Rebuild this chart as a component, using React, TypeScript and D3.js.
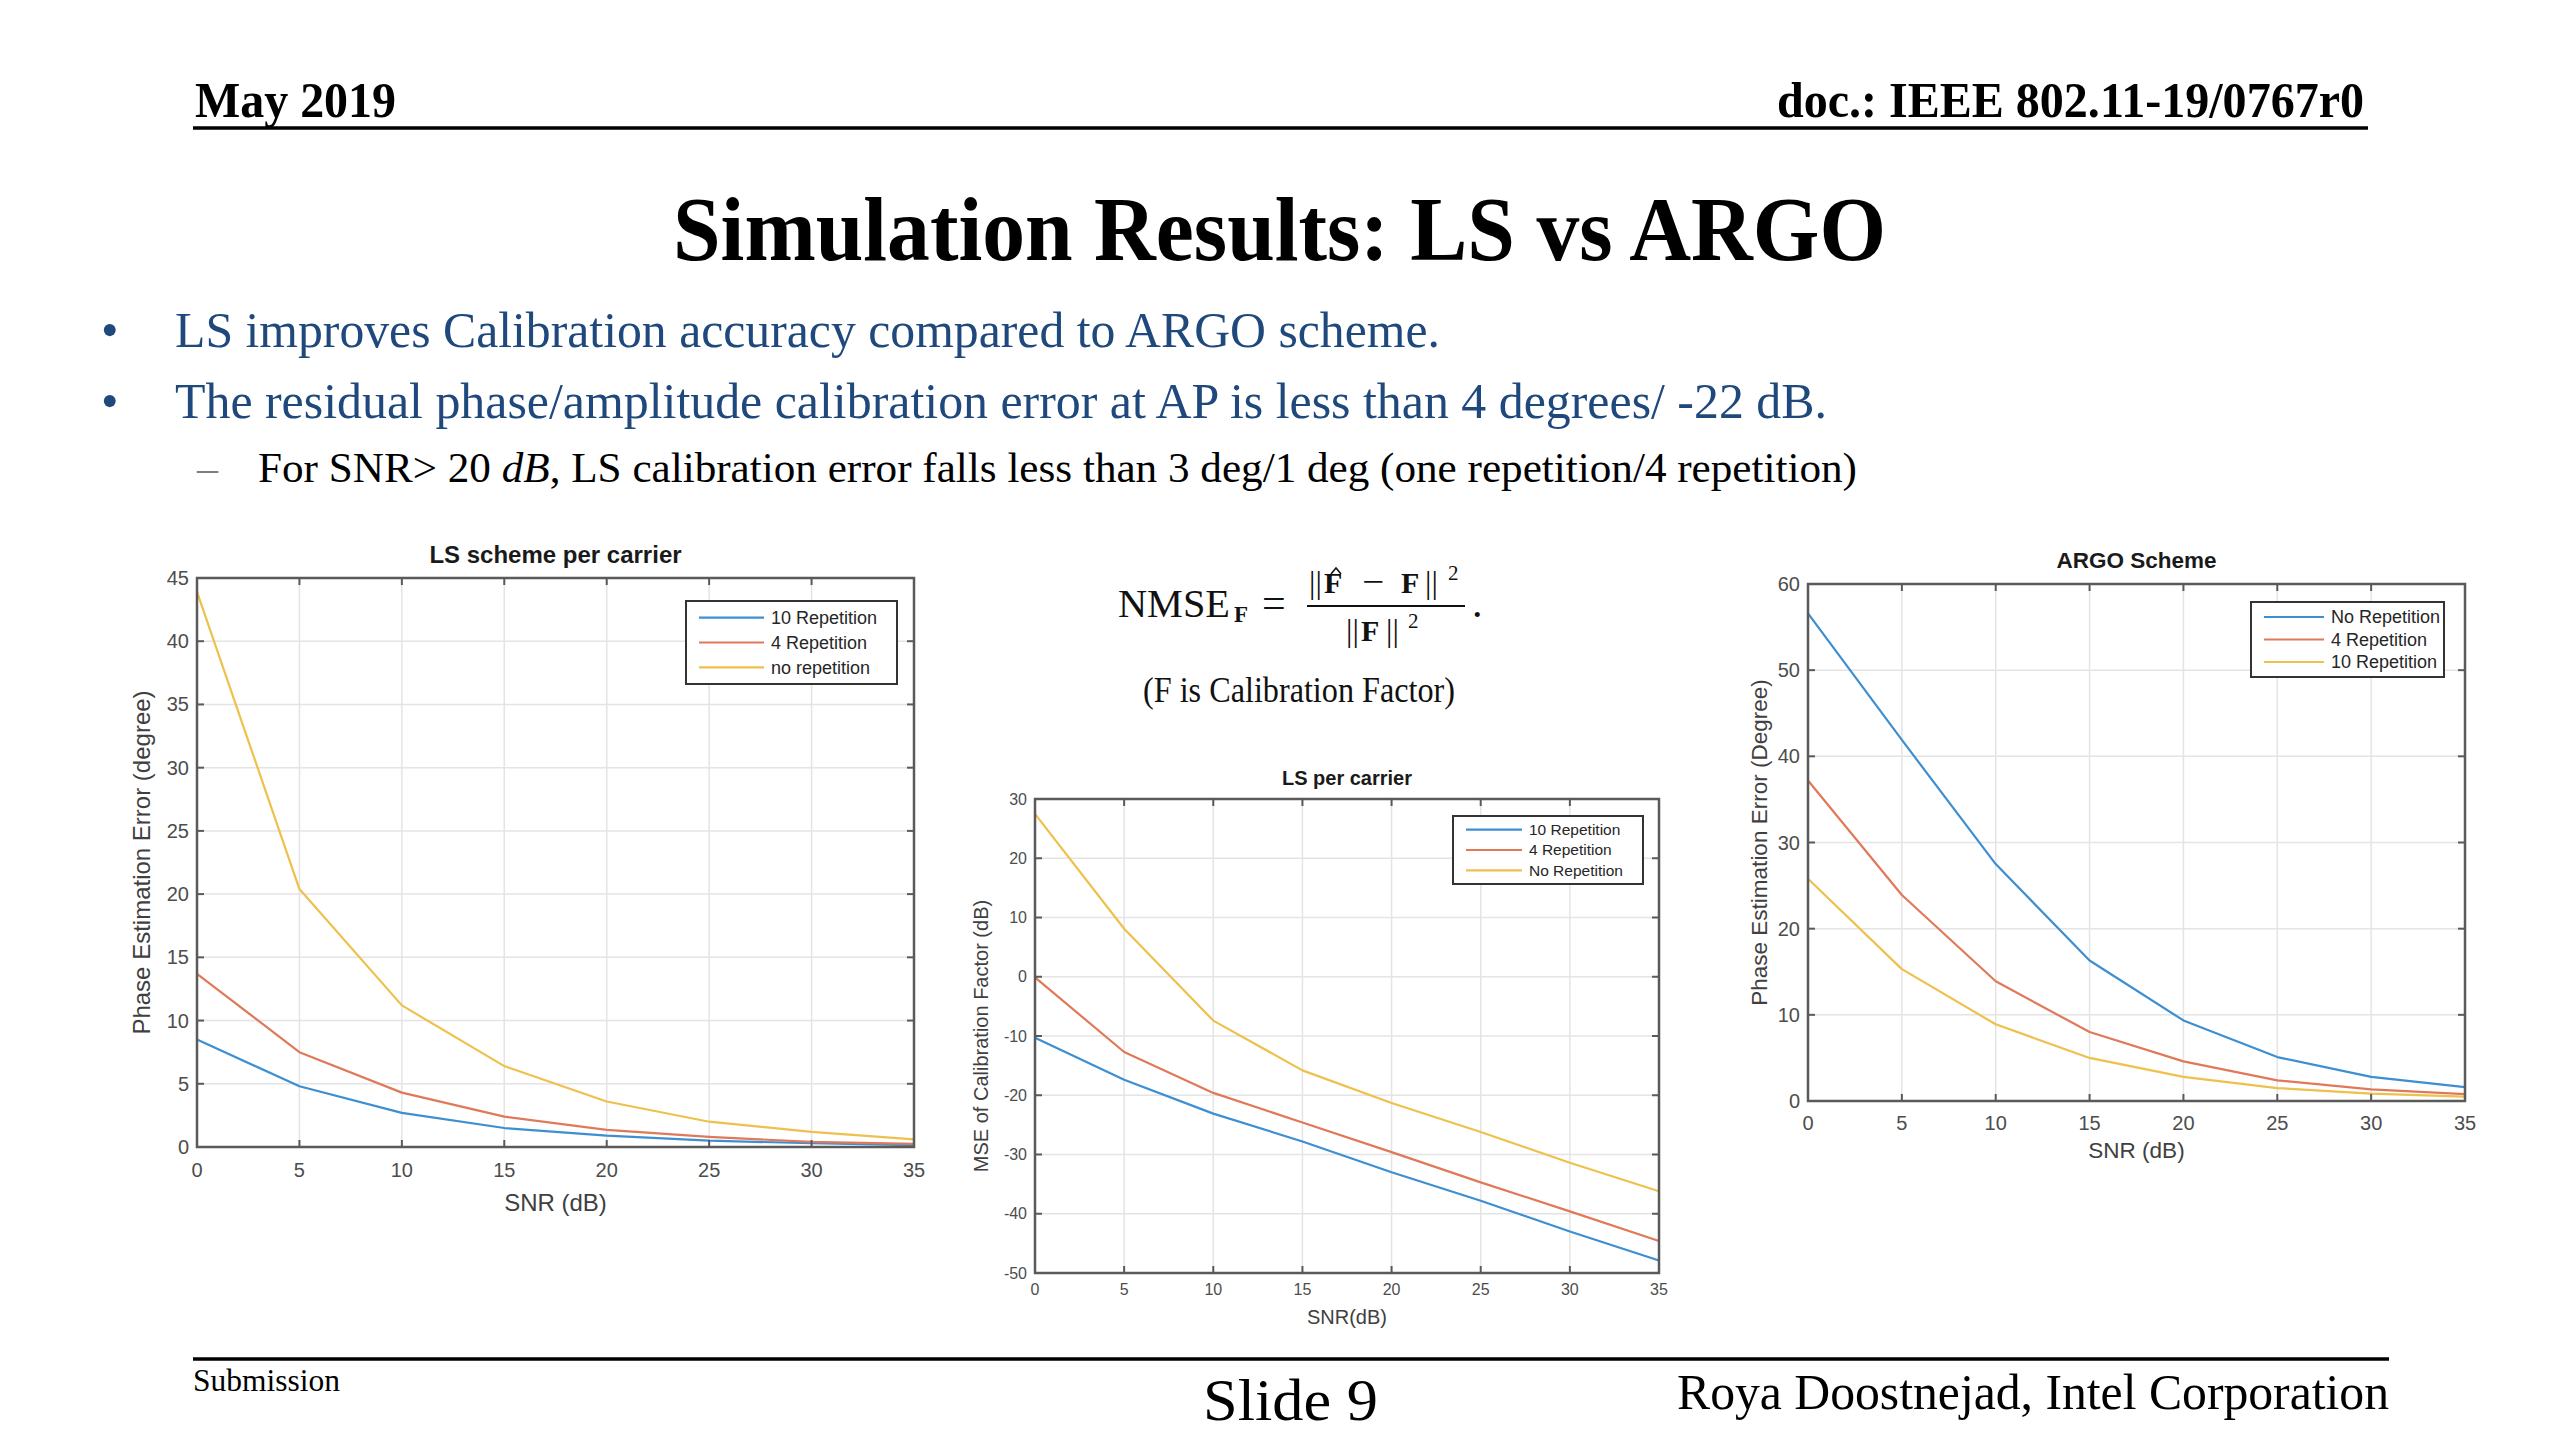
import React from 'react';
import * as d3 from 'd3';

// ---------- data ----------
const snrDb = [0, 5, 10, 15, 20, 25, 30, 35];
const snrTicks = [0, 5, 10, 15, 20, 25, 30, 35];

// LS scheme per carrier: phase estimation error (degree)
const lsPhase10Rep = [8.5, 4.8, 2.7, 1.5, 0.9, 0.5, 0.3, 0.15];
const lsPhase4Rep = [13.7, 7.5, 4.3, 2.4, 1.35, 0.8, 0.4, 0.25];
const lsPhaseNoRep = [43.9, 20.4, 11.2, 6.4, 3.6, 2.0, 1.2, 0.6];
const lsPhaseTicks = [0, 5, 10, 15, 20, 25, 30, 35, 40, 45];
const lsPhaseLegend = ['10 Repetition', '4 Repetition', 'no repetition'];

// LS per carrier: MSE of calibration factor (dB)
const lsMse10Rep = [-10.3, -17.4, -23.1, -27.8, -33.0, -37.8, -43.0, -47.9];
const lsMse4Rep = [-0.1, -12.7, -19.6, -24.6, -29.6, -34.7, -39.6, -44.6];
const lsMseNoRep = [27.5, 8.1, -7.4, -15.8, -21.3, -26.2, -31.4, -36.2];
const lsMseTicks = [-50, -40, -30, -20, -10, 0, 10, 20, 30];
const lsMseLegend = ['10 Repetition', '4 Repetition', 'No Repetition'];

// ARGO scheme: phase estimation error (degree)
const argoNoRep = [56.6, 41.9, 27.5, 16.3, 9.35, 5.1, 2.8, 1.6];
const argo4Rep = [37.2, 23.9, 13.9, 8.0, 4.6, 2.4, 1.35, 0.8];
const argo10Rep = [25.8, 15.3, 8.9, 5.0, 2.8, 1.5, 0.85, 0.5];
const argoTicks = [0, 10, 20, 30, 40, 50, 60];
const argoLegend = ['No Repetition', '4 Repetition', '10 Repetition'];

// ---------- styles ----------
const BLUE = '#3d8fd1';
const RED = '#e0795a';
const YELLOW = '#eec04c';
const SERIF = "'Liberation Serif', 'Times New Roman', serif";
const SANS = "'Liberation Sans', Arial, Helvetica, sans-serif";
const NAVY = '#1F497D';

type Series = { values: number[]; color: string; label: string };
type ChartProps = {
  left: number; right: number; top: number; bottom: number;
  yDomain: [number, number];
  yTicks: number[];
  series: Series[];
  title: string; xLabel: string; yLabel: string;
  fTick: number; fLabel: number; fTitle: number; fLegend: number;
  yLabelX: number; xLabelY: number; titleY: number; xTickY: number;
  legend: { x: number; y: number; w: number; h: number; line: number };
};

function Chart(p: ChartProps) {
  const x = d3.scaleLinear().domain([0, 35]).range([p.left, p.right]);
  const y = d3.scaleLinear().domain(p.yDomain).range([p.bottom, p.top]);
  const line = d3
    .line<number>()
    .x((_, i) => x(snrDb[i]))
    .y((d) => y(d));
  const axisColor = '#5a5a5a';
  const tickLen = 7;
  const cx = (p.left + p.right) / 2;
  const cy = (p.top + p.bottom) / 2;
  return (
    <g>
      {/* grid */}
      {snrTicks.slice(1, -1).map((t) => (
        <line key={'gx' + t} x1={x(t)} x2={x(t)} y1={p.top} y2={p.bottom} stroke="#e4e4e4" strokeWidth={1.5} />
      ))}
      {p.yTicks.slice(1, -1).map((t) => (
        <line key={'gy' + t} x1={p.left} x2={p.right} y1={y(t)} y2={y(t)} stroke="#e4e4e4" strokeWidth={1.5} />
      ))}
      {/* series */}
      {p.series.map((s, i) => (
        <path key={'s' + i} d={line(s.values) || ''} fill="none" stroke={s.color} strokeWidth={2.2} strokeLinejoin="round" />
      ))}
      {/* box */}
      <rect x={p.left} y={p.top} width={p.right - p.left} height={p.bottom - p.top} fill="none" stroke={axisColor} strokeWidth={2.5} />
      {/* ticks */}
      {snrTicks.map((t) => (
        <g key={'tx' + t}>
          <line x1={x(t)} x2={x(t)} y1={p.bottom} y2={p.bottom - tickLen} stroke={axisColor} strokeWidth={2} />
          <line x1={x(t)} x2={x(t)} y1={p.top} y2={p.top + tickLen} stroke={axisColor} strokeWidth={2} />
          <text x={x(t)} y={p.xTickY} textAnchor="middle" fontFamily={SANS} fontSize={p.fTick} fill="#4d4d4d">{t}</text>
        </g>
      ))}
      {p.yTicks.map((t) => (
        <g key={'ty' + t}>
          <line x1={p.left} x2={p.left + tickLen} y1={y(t)} y2={y(t)} stroke={axisColor} strokeWidth={2} />
          <line x1={p.right} x2={p.right - tickLen} y1={y(t)} y2={y(t)} stroke={axisColor} strokeWidth={2} />
          <text x={p.left - 8} y={y(t)} dy="0.35em" textAnchor="end" fontFamily={SANS} fontSize={p.fTick} fill="#4d4d4d">{t}</text>
        </g>
      ))}
      {/* labels */}
      <text x={cx} y={p.titleY} textAnchor="middle" fontFamily={SANS} fontWeight="bold" fontSize={p.fTitle} fill="#1a1a1a">{p.title}</text>
      <text x={cx} y={p.xLabelY} textAnchor="middle" fontFamily={SANS} fontSize={p.fLabel} fill="#404040">{p.xLabel}</text>
      <text transform={`translate(${p.yLabelX},${cy}) rotate(-90)`} dy="0.35em" textAnchor="middle" fontFamily={SANS} fontSize={p.fLabel} fill="#404040">{p.yLabel}</text>
      {/* legend */}
      <rect x={p.legend.x} y={p.legend.y} width={p.legend.w} height={p.legend.h} fill="#fff" stroke="#333" strokeWidth={2} />
      {p.series.map((s, i) => {
        const ly = p.legend.y + p.legend.h * (0.2 + 0.3 * i);
        const lx = p.legend.x + 13;
        return (
          <g key={'l' + i}>
            <line x1={lx} x2={lx + p.legend.line} y1={ly} y2={ly} stroke={s.color} strokeWidth={2.2} />
            <text x={lx + p.legend.line + 7} y={ly} dy="0.35em" fontFamily={SANS} fontSize={p.fLegend} fill="#262626">{s.label}</text>
          </g>
        );
      })}
    </g>
  );
}

export default function App() {
  return (
    <svg width={2560} height={1440} viewBox="0 0 2560 1440" style={{ position: 'absolute', left: 0, top: 0, background: '#fff' }}>
      <rect width={2560} height={1440} fill="#fff" />
      {/* header */}
      <text x={195} y={117} fontFamily={SERIF} fontWeight="bold" fontSize={50} textLength={201} lengthAdjust="spacingAndGlyphs">May 2019</text>
      <text x={1777} y={117} fontFamily={SERIF} fontWeight="bold" fontSize={50} textLength={587} lengthAdjust="spacingAndGlyphs">doc.: IEEE 802.11-19/0767r0</text>
      <line x1={193} x2={2368} y1={128} y2={128} stroke="#000" strokeWidth={3.5} />
      <text x={673} y={260} fontFamily={SERIF} fontWeight="bold" fontSize={90} textLength={1213} lengthAdjust="spacingAndGlyphs">Simulation Results: LS vs ARGO</text>

      {/* bullets */}
      <text x={101} y={347} fontFamily={SERIF} fontSize={50} fill={NAVY}>•</text>
      <text x={175} y={347} fontFamily={SERIF} fontSize={50} fill={NAVY} textLength={1265} lengthAdjust="spacingAndGlyphs">LS improves Calibration accuracy compared to ARGO scheme.</text>
      <text x={101} y={418} fontFamily={SERIF} fontSize={50} fill={NAVY}>•</text>
      <text x={175} y={418} fontFamily={SERIF} fontSize={50} fill={NAVY} textLength={1652} lengthAdjust="spacingAndGlyphs">The residual phase/amplitude calibration error at AP is less than 4 degrees/ -22 dB.</text>
      <text x={197} y={482} fontFamily={SERIF} fontSize={42} fill="#7f7f7f">–</text>
      <text x={258} y={482} fontFamily={SERIF} fontSize={42} fill="#000" textLength={1599} lengthAdjust="spacingAndGlyphs">
        For SNR&gt; 20 <tspan fontStyle="italic">dB</tspan>, LS calibration error falls less than 3 deg/1 deg (one repetition/4 repetition)
      </text>

      {/* formula */}
      <g fontFamily={SERIF} fill="#111">
        <text x={1118} y={617} fontSize={41} textLength={112} lengthAdjust="spacingAndGlyphs">NMSE</text>
        <text x={1234} y={622} fontSize={23} fontWeight="bold">F</text>
        <text x={1262} y={617} fontSize={42}>=</text>
        <line x1={1307} x2={1465} y1={606} y2={606} stroke="#111" strokeWidth={2} />
        <text x={1309} y={593} fontSize={32}>||</text>
        <text x={1324} y={593} fontSize={30} fontWeight="bold">F</text>
        <path d="M1331,574 L1336,568 L1341,574" fill="none" stroke="#111" strokeWidth={1.6} />
        <text x={1362} y={593} fontSize={34} textLength={22} lengthAdjust="spacingAndGlyphs">−</text>
        <text x={1401} y={593} fontSize={30} fontWeight="bold">F</text>
        <text x={1425} y={593} fontSize={32}>||</text>
        <text x={1448} y={580} fontSize={21}>2</text>
        <text x={1346} y={641} fontSize={32}>||</text>
        <text x={1361} y={641} fontSize={30} fontWeight="bold">F</text>
        <text x={1386} y={641} fontSize={32}>||</text>
        <text x={1408} y={628} fontSize={21}>2</text>
        <text x={1472} y={617} fontSize={42}>.</text>
        <text x={1143} y={702} fontSize={35} textLength={312} lengthAdjust="spacingAndGlyphs">(F is Calibration Factor)</text>
      </g>

      {/* left chart */}
      <Chart
        left={197} right={914} top={578} bottom={1147}
        yDomain={[0, 45]} yTicks={lsPhaseTicks}
        series={[
          { values: lsPhase10Rep, color: BLUE, label: lsPhaseLegend[0] },
          { values: lsPhase4Rep, color: RED, label: lsPhaseLegend[1] },
          { values: lsPhaseNoRep, color: YELLOW, label: lsPhaseLegend[2] },
        ]}
        title="LS scheme per carrier" xLabel="SNR (dB)" yLabel="Phase Estimation Error (degree)"
        fTick={20} fLabel={24} fTitle={24} fLegend={18}
        yLabelX={142} xLabelY={1211} titleY={563} xTickY={1177}
        legend={{ x: 686, y: 601, w: 211, h: 83, line: 65 }}
      />

      {/* middle chart */}
      <Chart
        left={1035} right={1659} top={799} bottom={1273}
        yDomain={[-50, 30]} yTicks={lsMseTicks}
        series={[
          { values: lsMse10Rep, color: BLUE, label: lsMseLegend[0] },
          { values: lsMse4Rep, color: RED, label: lsMseLegend[1] },
          { values: lsMseNoRep, color: YELLOW, label: lsMseLegend[2] },
        ]}
        title="LS per carrier" xLabel="SNR(dB)" yLabel="MSE of Calibration Factor (dB)"
        fTick={16} fLabel={20} fTitle={20} fLegend={15.5}
        yLabelX={981} xLabelY={1324} titleY={785} xTickY={1295}
        legend={{ x: 1453, y: 816, w: 190, h: 68, line: 56 }}
      />

      {/* right chart */}
      <Chart
        left={1808} right={2465} top={584} bottom={1101}
        yDomain={[0, 60]} yTicks={argoTicks}
        series={[
          { values: argoNoRep, color: BLUE, label: argoLegend[0] },
          { values: argo4Rep, color: RED, label: argoLegend[1] },
          { values: argo10Rep, color: YELLOW, label: argoLegend[2] },
        ]}
        title="ARGO Scheme" xLabel="SNR (dB)" yLabel="Phase Estimation Error (Degree)"
        fTick={20} fLabel={22.5} fTitle={22.5} fLegend={18}
        yLabelX={1759} xLabelY={1158} titleY={568} xTickY={1130}
        legend={{ x: 2251, y: 602, w: 193, h: 75, line: 60 }}
      />

      {/* footer */}
      <line x1={193} x2={2389} y1={1359} y2={1359} stroke="#000" strokeWidth={3.5} />
      <text x={193} y={1391} fontFamily={SERIF} fontSize={31} textLength={147} lengthAdjust="spacingAndGlyphs">Submission</text>
      <text x={1203} y={1420} fontFamily={SERIF} fontSize={60} textLength={175} lengthAdjust="spacingAndGlyphs">Slide 9</text>
      <text x={1677} y={1409} fontFamily={SERIF} fontSize={50} textLength={712} lengthAdjust="spacingAndGlyphs">Roya Doostnejad, Intel Corporation</text>
    </svg>
  );
}
